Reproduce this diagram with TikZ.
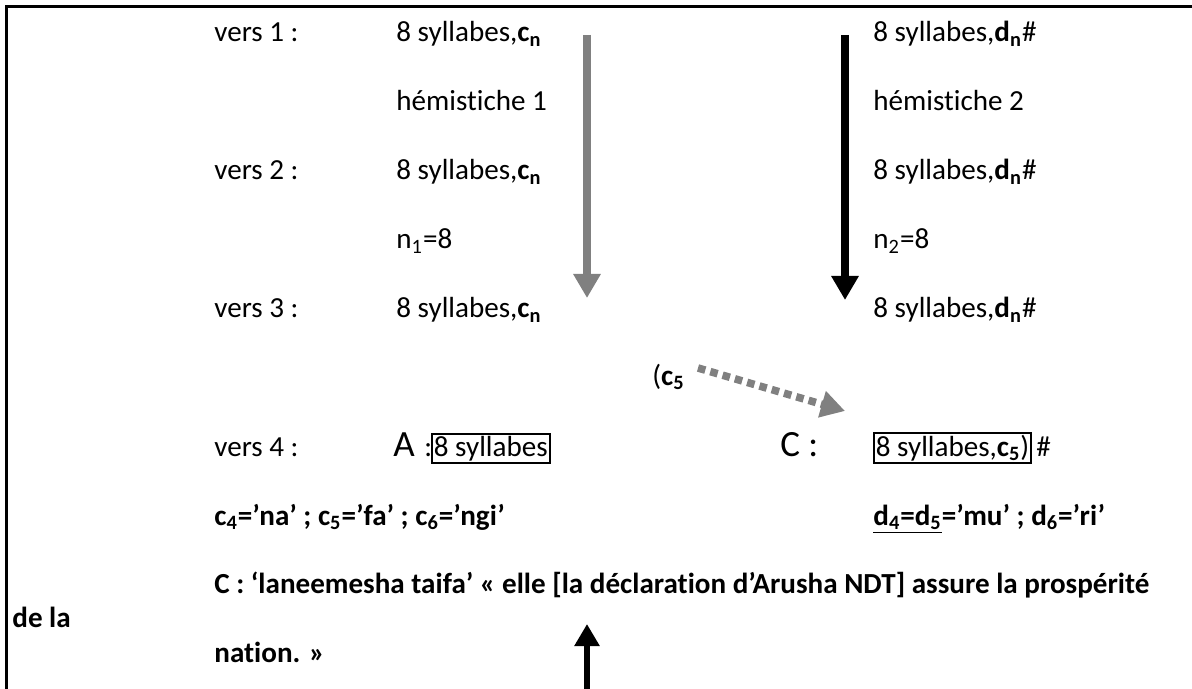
\documentclass[tikz,border=0pt]{standalone}
\usepackage{fontspec}
\setmainfont{Carlito}[Ligatures=NoCommon]
\usetikzlibrary{arrows.meta,positioning}
\definecolor{arrgray}{HTML}{808080}
\newcommand\grand{\fontsize{18.5}{20}\selectfont}

\begin{document}
\begin{tikzpicture}[x=0.5pt,y=-0.5pt,
  txt/.style={anchor=base west, inner sep=0pt, font=\fontsize{14.55}{17}\selectfont},
  bx/.style={txt, draw, line width=0.9pt, inner sep=1pt},
  vline/.style={line width=4pt, -{Triangle[width=13pt,length=12pt]}},
  dotarr/.style={arrgray, line width=3.8pt, dash pattern=on 3.8pt off 2.6pt,
                 -{Triangle[width=13pt,length=12pt]}},
  uparr/.style={line width=3pt, -{Triangle[width=12pt,length=11pt]}}]
  \useasboundingbox (0,0) rectangle (1192,689);
  \draw[line width=1.5pt] (6,689) -- (6,7) -- (1192,7);
  % left column
  \node[txt] (v1) at (214,42) {vers 1 :};
  \node[txt] (s1) at (396,42) {8 syllabes,\textbf{c\textsubscript{n}}};
  \node[txt] (h1) at (396,111) {hémistiche 1};
  \node[txt] (v2) at (214,180) {vers 2 :};
  \node[txt] (s2) at (396,180) {8 syllabes,\textbf{c\textsubscript{n}}};
  \node[txt] (n1) at (396,249) {n\textsubscript{1}=8};
  \node[txt] (v3) at (214,318) {vers 3 :};
  \node[txt] (s3) at (396,318) {8 syllabes,\textbf{c\textsubscript{n}}};
  \node[txt] (c5) at (652,385) {(\textbf{c\textsubscript{5}}};
  \node[txt] (v4) at (214,456) {vers 4 :};
  \node[txt] (lblA) at (393,456) {\grand A};
  \node[txt] (colA) at (424,456) {:};
  \node[bx] (boxA) at (431,456) {8 syllabes};
  % right column
  \node[txt] (d1) at (873,42) {8 syllabes,\textbf{d\textsubscript{n}}\#};
  \node[txt] (h2) at (873,111) {hémistiche 2};
  \node[txt] (d2) at (873,180) {8 syllabes,\textbf{d\textsubscript{n}}\#};
  \node[txt] (n2) at (873,249) {n\textsubscript{2}=8};
  \node[txt] (d3) at (873,318) {8 syllabes,\textbf{d\textsubscript{n}}\#};
  \node[txt] (lblC) at (780,456) {\grand C :};
  \node[bx] (boxC) at (873,456) {8 syllabes,\textbf{c\textsubscript{5}})};
  \node[txt] (hashC) at (1036,456) {\#};
  % values and gloss
  \node[txt] (cval) at (214,525) {\textbf{c\textsubscript{4}=’na’ ; c\textsubscript{5}=’fa’ ; c\textsubscript{6}=’ngi’}};
  \node[txt] (dval) at (873,525) {\textbf{\underline{d\textsubscript{4}=d\textsubscript{5}}=’mu’ ; d\textsubscript{6}=’ri’}};
  \node[txt] (gloss) at (214,593) {\textbf{C : ‘laneemesha taifa’ « elle [la déclaration d’Arusha NDT] assure la prospérité}};
  \node[txt] (dela) at (12,627) {\textbf{de la}};
  \node[txt] (nation) at (214,662) {\textbf{nation. »}};
  % arrows
  \coordinate (g1) at (587,35);
  \coordinate (g2) at (587,298);
  \coordinate (k1) at (845,35);
  \coordinate (k2) at (845,300);
  \coordinate (p1) at (698,368);
  \coordinate (p2) at (845,411);
  \coordinate (u1) at (587,689);
  \coordinate (u2) at (587,624);
  \draw[vline, arrgray] (g1) -- (g2);
  \draw[vline] (k1) -- (k2);
  \draw[dotarr] (p1) -- (p2);
  \draw[uparr] (u1) -- (u2);
\end{tikzpicture}
\end{document}
